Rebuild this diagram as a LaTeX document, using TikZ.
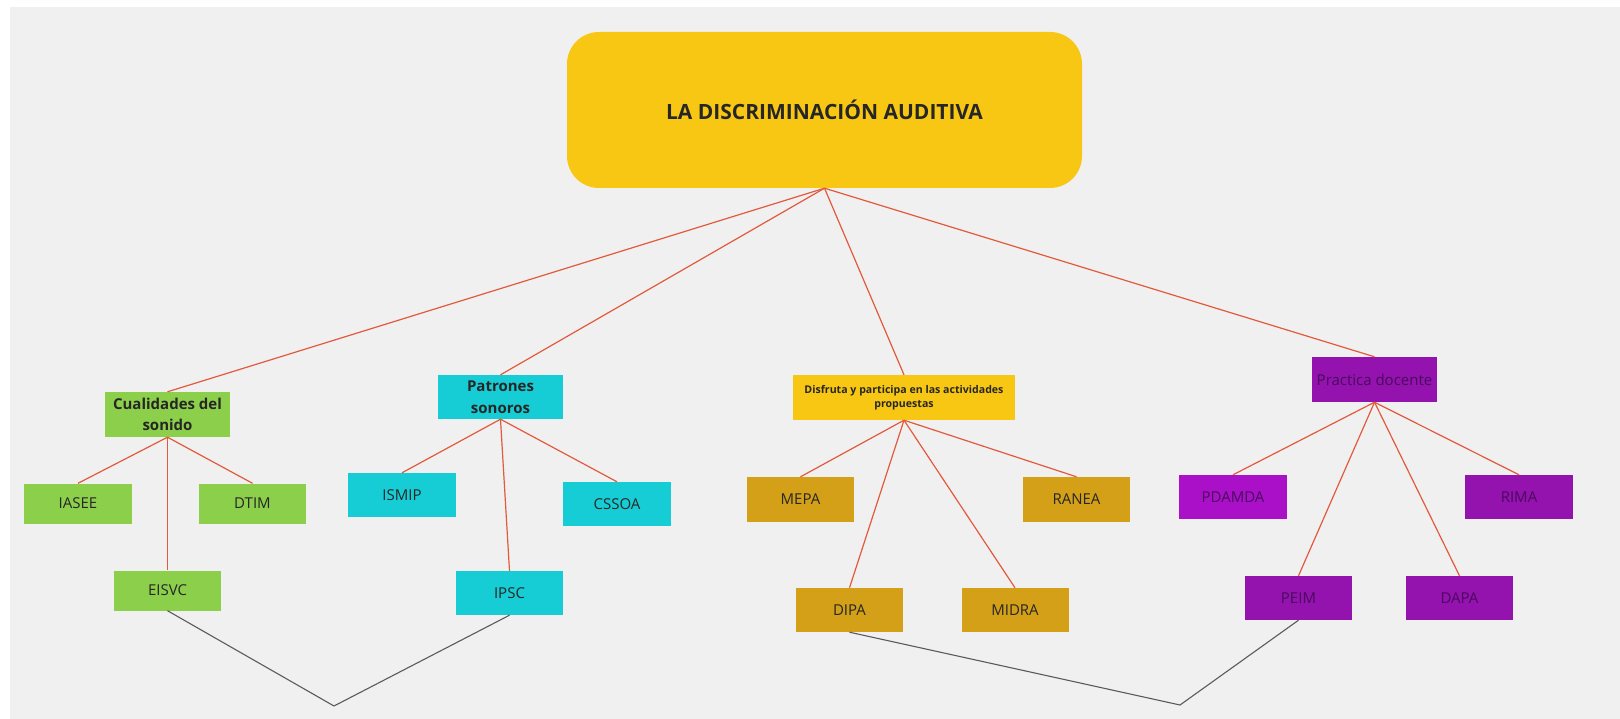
\documentclass[tikz,border=0pt]{standalone}
\usepackage{fontspec}
\setmainfont{Open Sans}

\definecolor{fondo}{HTML}{F0F0F0}
\definecolor{amarillo}{HTML}{F8C713}
\definecolor{verde}{HTML}{8CCF4B}
\definecolor{cian}{HTML}{16CDD5}
\definecolor{ocre}{HTML}{D3A018}
\definecolor{morado}{HTML}{9412AE}
\definecolor{moradoclaro}{HTML}{A910C8}
\definecolor{rama}{HTML}{E2593B}
\definecolor{enlace}{HTML}{5A5A5A}
\definecolor{texto}{HTML}{262626}
\definecolor{textomorado}{HTML}{4A0A5E}

\begin{document}
\begin{tikzpicture}[x=1pt, y=-1pt,
	caja/.style={rectangle, inner sep=0pt, minimum width=107pt, minimum height=42pt,
		text=texto, font=\fontsize{15}{18}\selectfont},
	cajatema/.style={caja, minimum width=125pt, minimum height=45pt, align=center,
		font=\fontsize{15}{21.5}\selectfont\bfseries},
	rojo/.style={draw=rama, line width=1.2pt},
	gris/.style={draw=enlace, line width=1.1pt}]

	\useasboundingbox (0, 0) rectangle (1620, 719);
	\fill[white] (0, 0) rectangle (1620, 719);
	\fill[fondo] (10, 7) rectangle (1620, 719);

	% titulo
	\node[rectangle, rounded corners=32pt, fill=amarillo, minimum width=515pt, minimum height=156pt,
		inner sep=0pt, text=texto, font=\fontsize{21}{25}\selectfont\bfseries] (titulo) at (824.5, 110)
		{LA DISCRIMINACIÓN AUDITIVA};

	% temas
	\node[cajatema, fill=verde] (cualidades) at (167.5, 414.5) {Cualidades del\\sonido};
	\node[cajatema, fill=cian, minimum height=44pt] (patrones) at (500.5, 397) {Patrones\\sonoros};
	\node[cajatema, fill=amarillo, minimum width=222pt, font=\fontsize{10.6}{14.5}\selectfont\bfseries] (disfruta) at (904, 397.5)
		{Disfruta y participa en las actividades\\propuestas};
	\node[cajatema, fill=morado, text=textomorado, font=\fontsize{15}{18}\selectfont] (practica) at (1374.5, 379.5)
		{Practica docente};

	% cualidades del sonido
	\node[caja, fill=verde, minimum width=108pt, minimum height=40pt] (iasee) at (78, 503.5) {IASEE};
	\node[caja, fill=verde, minimum height=40pt] (dtim) at (252.5, 503.5) {DTIM};
	\node[caja, fill=verde, minimum height=40pt] (eisvc) at (167.5, 590.5) {EISVC};

	% patrones sonoros
	\node[caja, fill=cian, minimum width=108pt, minimum height=44pt] (ismip) at (402, 495) {ISMIP};
	\node[caja, fill=cian, minimum width=108pt, minimum height=44pt] (cssoa) at (617, 504) {CSSOA};
	\node[caja, fill=cian, minimum height=44pt] (ipsc) at (509.5, 593) {IPSC};

	% disfruta y participa
	\node[caja, fill=ocre, minimum height=45pt] (mepa) at (800.5, 499.5) {MEPA};
	\node[caja, fill=ocre, minimum height=45pt] (ranea) at (1076.5, 499.5) {RANEA};
	\node[caja, fill=ocre, minimum height=44pt] (dipa) at (849.5, 610) {DIPA};
	\node[caja, fill=ocre, minimum height=44pt] (midra) at (1015, 610) {MIDRA};

	% practica docente
	\node[caja, fill=moradoclaro, text=textomorado, minimum width=108pt, minimum height=44pt] (pdamda) at (1233, 497) {PDAMDA};
	\node[caja, fill=morado, text=textomorado, minimum width=108pt, minimum height=44pt] (rima) at (1519, 497) {RIMA};
	\node[caja, fill=morado, text=textomorado, minimum height=44pt] (peim) at (1298.5, 598) {PEIM};
	\node[caja, fill=morado, text=textomorado, minimum height=44pt] (dapa) at (1459.5, 598) {DAPA};

	% ramas
	\draw[rojo] (titulo.south) -- (cualidades.north);
	\draw[rojo] (titulo.south) -- (patrones.north);
	\draw[rojo] (titulo.south) -- (disfruta.north);
	\draw[rojo] (titulo.south) -- (practica.north);

	\draw[rojo] (cualidades.south) -- (iasee.north);
	\draw[rojo] (cualidades.south) -- (dtim.north);
	\draw[rojo] (cualidades.south) -- (eisvc.north);

	\draw[rojo] (patrones.south) -- (ismip.north);
	\draw[rojo] (patrones.south) -- (cssoa.north);
	\draw[rojo] (patrones.south) -- (ipsc.north);

	\draw[rojo] (disfruta.south) -- (mepa.north);
	\draw[rojo] (disfruta.south) -- (ranea.north);
	\draw[rojo] (disfruta.south) -- (dipa.north);
	\draw[rojo] (disfruta.south) -- (midra.north);

	\draw[rojo] (practica.south) -- (pdamda.north);
	\draw[rojo] (practica.south) -- (rima.north);
	\draw[rojo] (practica.south) -- (peim.north);
	\draw[rojo] (practica.south) -- (dapa.north);

	% enlaces
	\coordinate (v1) at (334, 706);
	\coordinate (v2) at (1180, 705);
	\draw[gris] (eisvc.south) -- (v1) -- (ipsc.south);
	\draw[gris] (dipa.south) -- (v2) -- (peim.south);

\end{tikzpicture}
\end{document}
